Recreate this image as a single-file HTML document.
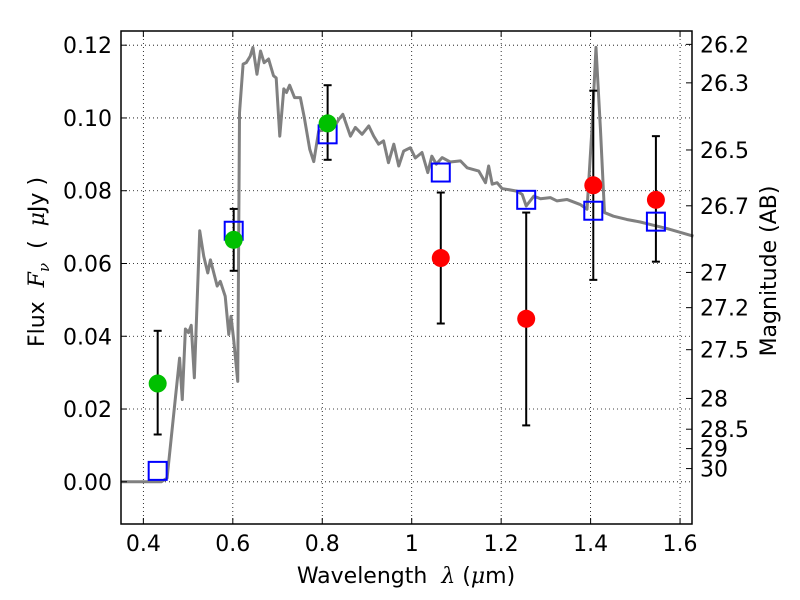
<!DOCTYPE html>
<html><head><meta charset="utf-8"><style>
html,body{margin:0;padding:0;background:#fff;}
svg{display:block;font-family:"DejaVu Sans","Liberation Sans",sans-serif;}
</style></head><body>
<svg id="chart" width="800" height="600" viewBox="0 0 800 600"></svg>
<script>
const xTicks=[0.4,0.6,0.8,1.0,1.2,1.4,1.6];
const xTickLabels=["0.4","0.6","0.8","1","1.2","1.4","1.6"];
const yTicks=[0,0.02,0.04,0.06,0.08,0.10,0.12];
const yTickLabels=["0.00","0.02","0.04","0.06","0.08","0.10","0.12"];
const magTicks=[26.2,26.3,26.5,26.7,27,27.2,27.5,28,28.5,29,30];
const magLabels=["26.2","26.3","26.5","26.7","27","27.2","27.5","28","28.5","29","30"];
const specX=[0.35,0.44,0.453,0.472,0.481,0.487,0.494,0.501,0.507,0.514,0.526,0.535,0.544,0.550,0.565,0.572,0.583,0.591,0.596,0.602,0.611,0.615,0.623,0.630,0.639,0.645,0.654,0.662,0.670,0.680,0.691,0.697,0.705,0.714,0.720,0.727,0.738,0.751,0.760,0.772,0.781,0.792,0.811,0.826,0.837,0.846,0.863,0.874,0.889,0.904,0.915,0.926,0.937,0.948,0.960,0.971,0.982,0.990,0.997,1.008,1.023,1.036,1.045,1.055,1.068,1.086,1.109,1.124,1.150,1.165,1.172,1.180,1.191,1.202,1.235,1.247,1.256,1.273,1.288,1.310,1.325,1.347,1.377,1.392,1.403,1.412,1.422,1.431,1.451,1.481,1.511,1.541,1.571,1.630];
const specF=[0,0,0.001,0.0235,0.034,0.0226,0.042,0.041,0.043,0.0286,0.069,0.062,0.0574,0.061,0.0538,0.0551,0.051,0.0405,0.0455,0.039,0.0276,0.1015,0.1148,0.1152,0.117,0.1194,0.112,0.1184,0.1152,0.1162,0.1116,0.111,0.095,0.108,0.107,0.109,0.1056,0.1056,0.100,0.0914,0.088,0.0964,0.0969,0.0974,0.0996,0.101,0.095,0.0974,0.0955,0.0978,0.095,0.0928,0.0937,0.0877,0.0928,0.0868,0.0909,0.0914,0.0918,0.089,0.0905,0.085,0.0895,0.0873,0.0891,0.0879,0.0882,0.0863,0.0854,0.0822,0.0868,0.0818,0.0822,0.0806,0.0799,0.079,0.0758,0.0785,0.0778,0.0781,0.0772,0.0776,0.0762,0.0749,0.0969,0.1194,0.0969,0.074,0.073,0.0721,0.0714,0.0705,0.0696,0.0675];
const greenX=[0.432,0.602,0.812];
const greenF=[0.027,0.0665,0.0985];
const greenLo=[0.013,0.058,0.0885];
const greenHi=[0.0415,0.075,0.109];
const redX=[1.065,1.256,1.406,1.546];
const redF=[0.0615,0.0448,0.0815,0.0775];
const redLo=[0.0435,0.0155,0.0555,0.0605];
const redHi=[0.0795,0.074,0.1075,0.095];
const modelX=[0.432,0.602,0.812,1.065,1.256,1.406,1.546];
const modelF=[0.003,0.069,0.0955,0.085,0.0775,0.0745,0.0715];

const L=121,R=692,T=31,B=524;
const X0=0.35,X1=1.6267,Y0=-0.0116,Y1=0.1239;
const sx=v=>L+(v-X0)/(X1-X0)*(R-L);
const sy=v=>B-(v-Y0)/(Y1-Y0)*(B-T);
const NS="http://www.w3.org/2000/svg";
const svg=document.getElementById('chart');
function mk(tag,attrs,parent){const e=document.createElementNS(NS,tag);for(const k in attrs)e.setAttribute(k,attrs[k]);(parent||svg).appendChild(e);return e;}

const grid=mk('g',{});


xTicks.forEach(v=>{const l=mk('line',{x1:sx(v),x2:sx(v),y1:T,y2:B,stroke:'#000','stroke-width':0.8,'stroke-dasharray':'1,3'},grid);

});
yTicks.forEach(v=>{const l=mk('line',{x1:L,x2:R,y1:sy(v),y2:sy(v),stroke:'#000','stroke-width':0.8,'stroke-dasharray':'1,3'},grid);

});

const sp=mk('polyline',{points:specX.map((x,i)=>sx(x)+','+sy(specF[i])).join(' '),fill:'none',stroke:'#808080','stroke-width':3,'stroke-linejoin':'round'});



function errs(xs,lo,hi,name){xs.forEach((x,i)=>{const g=mk('g',{stroke:'#000','stroke-width':2});


mk('line',{x1:sx(x),x2:sx(x),y1:sy(lo[i]),y2:sy(hi[i])},g);
mk('line',{x1:sx(x)-4,x2:sx(x)+4,y1:sy(lo[i]),y2:sy(lo[i])},g);
mk('line',{x1:sx(x)-4,x2:sx(x)+4,y1:sy(hi[i]),y2:sy(hi[i])},g);});}
errs(greenX,greenLo,greenHi,'green-errorbar');
errs(redX,redLo,redHi,'red-errorbar');

modelX.forEach((x,i)=>{const r=mk('rect',{x:sx(x)-9,y:sy(modelF[i])-9,width:18,height:18,fill:'none',stroke:'#0000ff','stroke-width':2});

});
greenX.forEach((x,i)=>{const c=mk('circle',{cx:sx(x),cy:sy(greenF[i]),r:9,fill:'#00c000'});

});
redX.forEach((x,i)=>{const c=mk('circle',{cx:sx(x),cy:sy(redF[i]),r:9,fill:'#ff0000'});

});

const frame=mk('rect',{x:L,y:T,width:R-L,height:B-T,fill:'none',stroke:'#000','stroke-width':1.5});



xTicks.forEach((v,i)=>{mk('line',{x1:sx(v),x2:sx(v),y1:B,y2:B-6,stroke:'#000'});mk('line',{x1:sx(v),x2:sx(v),y1:T,y2:T+6,stroke:'#000'});
const t=mk('text',{x:sx(v),y:B+27,'text-anchor':'middle','font-size':22});t.textContent=xTickLabels[i];

});
yTicks.forEach((v,i)=>{mk('line',{x1:L,x2:L+6,y1:sy(v),y2:sy(v),stroke:'#000'});
const t=mk('text',{x:L-9,y:sy(v)+8,'text-anchor':'end','font-size':22});t.textContent=yTickLabels[i];

});
magTicks.forEach((m,i)=>{const f=Math.pow(10,(23.9-m)/2.5);const y=sy(f);
mk('line',{x1:R,x2:R-6,y1:y,y2:y,stroke:'#000'});
const t=mk('text',{x:R+8,y:y+8,'font-size':22});t.textContent=magLabels[i];

});

const xl=mk('text',{x:406,y:583,'text-anchor':'middle','font-size':22});
xl.innerHTML='Wavelength\u00a0\u00a0<tspan font-style="italic" font-family="DejaVu Serif">λ</tspan> (<tspan font-style="italic" font-family="DejaVu Serif">μ</tspan>m)';


const yl=mk('text',{x:0,y:0,'text-anchor':'middle','font-size':22,transform:'translate(44,262) rotate(-90)'});
yl.innerHTML='Flux\u00a0\u00a0<tspan font-style="italic" font-family="DejaVu Serif">F<tspan font-size="15" dy="5">ν</tspan></tspan><tspan dy="-5">\u00a0\u00a0(\u00a0\u00a0</tspan><tspan font-style="italic" font-family="DejaVu Serif">μ</tspan>Jy )';


const rl=mk('text',{x:0,y:0,'text-anchor':'middle','font-size':22,transform:'translate(776,271) rotate(-90)'});
rl.textContent='Magnitude (AB)';


</script>
</body></html>
